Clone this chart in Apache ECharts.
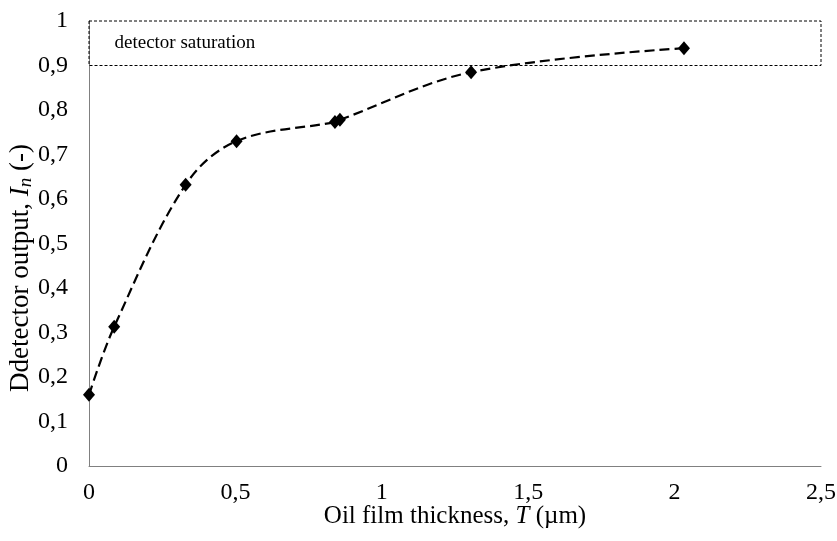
<!DOCTYPE html>
<html>
<head>
<meta charset="utf-8">
<script src="https://cdn.jsdelivr.net/npm/echarts@6/dist/echarts.min.js"></script>
<style>
  html, body { margin: 0; padding: 0; background: #fff; }
  #chart { width: 837px; height: 541px; }
</style>
</head>
<body>
<div id="chart"></div>
<script>
// oil film thickness (um) and normalised detector output
const thickness = [0, 0.086, 0.33, 0.504, 0.84, 0.857, 1.305, 2.032];
const output = [0.160, 0.313, 0.632, 0.730, 0.773, 0.778, 0.885, 0.939];
// saturation band, drawn a touch above 1 like the source
const saturationLevel = [0.9, 1.013];
const xRange = [0, 2.5];
const yRange = [0, 1];

const font = "'Liberation Serif', 'Times New Roman', serif";
const comma = (v) => String(+v.toFixed(2)).replace(".", ",");

const chart = echarts.init(document.getElementById("chart"));

const points = thickness.map((t, i) => [t, output[i]]);

chart.setOption({
  animation: false,
  grid: { left: 89, right: 16, top: 21, bottom: 75, containLabel: false, outerBoundsMode: "none" },
  xAxis: {
    type: "value",
    min: xRange[0],
    max: xRange[1],
    interval: 0.5,
    axisLine: { lineStyle: { color: "#808080", width: 1 } },
    axisTick: { show: false },
    splitLine: { show: false },
    axisLabel: { color: "#000", fontFamily: font, fontSize: 24, margin: 15, formatter: comma },
    name: "{a|Oil film thickness, }{i|T}{a| (µm)}",
    nameLocation: "middle",
    nameGap: 38,
    nameMoveOverlap: false,
    nameTextStyle: {
      rich: {
        a: { fontFamily: font, fontSize: 25, color: "#000" },
        i: { fontFamily: font, fontSize: 25, color: "#000", fontStyle: "italic" }
      }
    }
  },
  yAxis: {
    type: "value",
    min: yRange[0],
    max: yRange[1],
    interval: 0.1,
    axisLine: { show: true, lineStyle: { color: "#808080", width: 1 } },
    axisTick: { show: false },
    splitLine: { show: false },
    axisLabel: { color: "#000", fontFamily: font, fontSize: 24, margin: 21, formatter: comma },
    name: "{a|Ddetector output, }{i|I}{s|n}{a| (-)}",
    nameLocation: "middle",
    nameRotate: 90,
    nameGap: 54,
    nameMoveOverlap: false,
    nameTextStyle: {
      padding: [0, 49, 0, 0],
      rich: {
        a: { fontFamily: font, fontSize: 27, color: "#000" },
        i: { fontFamily: font, fontSize: 27, color: "#000", fontStyle: "italic" },
        s: { fontFamily: font, fontSize: 19, color: "#000", fontStyle: "italic", padding: [10, 0, 0, 0] }
      }
    }
  },
  series: [
    {
      type: "line",
      data: points,
      clip: false,
      smooth: 0.35,
      symbol: "diamond",
      symbolSize: [12, 14],
      itemStyle: { color: "#000" },
      lineStyle: { color: "#000", width: 2.2, type: [10, 5] },
      markArea: {
        silent: true,
        itemStyle: {
          color: "rgba(0,0,0,0)",
          borderColor: "#000",
          borderWidth: 1,
          borderType: [3, 2]
        },
        label: {
          position: "insideLeft",
          distance: 26,
          color: "#000",
          fontFamily: font,
          fontSize: 19
        },
        data: [[
          { name: "detector saturation", xAxis: xRange[0], yAxis: saturationLevel[1] },
          { xAxis: xRange[1], yAxis: saturationLevel[0] }
        ]]
      }
    }
  ]
});
</script>
</body>
</html>
